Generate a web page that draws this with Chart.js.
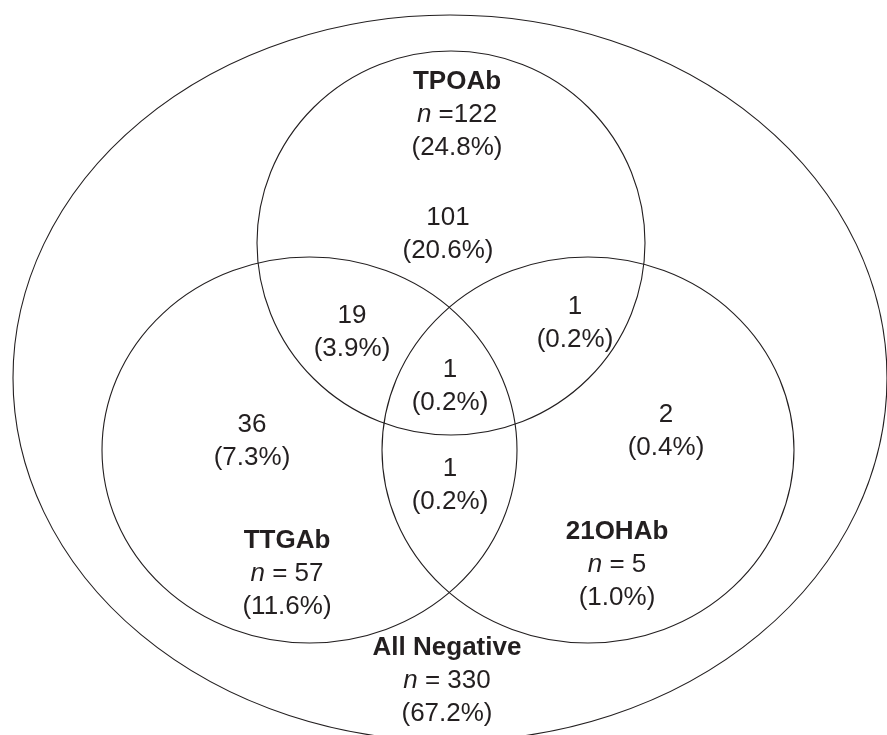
<!DOCTYPE html>
<html>
<head>
<meta charset="utf-8">
<script src="https://cdn.jsdelivr.net/npm/chart.js@4"></script>
<style>
  html, body { margin: 0; padding: 0; background: #fff; }
  #wrap { width: 887px; height: 735px; }
</style>
</head>
<body>
<div id="wrap"><canvas id="venn" width="887" height="735"></canvas></div>
<script>
// set totals
const setNames = ['TPOAb', 'TTGAb', '21OHAb', 'All Negative'];
const setCounts = [122, 57, 5, 330];
const setPercents = ['24.8', '11.6', '1.0', '67.2'];

// overlap regions
const regionNames = ['TPOAb only', 'TPOAb + TTGAb', 'TPOAb + 21OHAb', 'All three',
  'TTGAb + 21OHAb', 'TTGAb only', '21OHAb only'];
const regionCounts = [101, 19, 1, 1, 1, 36, 2];
const regionPercents = ['20.6', '3.9', '0.2', '0.2', '0.2', '7.3', '0.4'];

// geometry in canvas units (axis 0..887 x 0..735)
const rings = [
  { cx: 450, cy: 378, rx: 437, ry: 363 },   // everyone
  { cx: 451, cy: 243, rx: 194, ry: 192 },   // TPOAb
  { cx: 309.5, cy: 450, rx: 207.5, ry: 193 }, // TTGAb
  { cx: 588, cy: 450, rx: 206, ry: 193 }    // 21OHAb
];
const setPos = [
  { x: 457, y: 82, tight: true },
  { x: 287, y: 541 },
  { x: 617, y: 532 },
  { x: 447, y: 648 }
];
const regionPos = [
  { x: 448, y: 218 }, { x: 352, y: 316 }, { x: 575, y: 307 }, { x: 450, y: 370 },
  { x: 450, y: 469 }, { x: 252, y: 425 }, { x: 666, y: 415 }
];

const INK = '#231f20';
const FAMILY = '"Liberation Sans", Arial, Helvetica, sans-serif';
const SIZE = 26;
const LINE = 33;

function drawRuns(ctx, runs, cx, cy) {
  let total = 0;
  runs.forEach(r => { ctx.font = r.font; r.w = ctx.measureText(r.text).width; total += r.w; });
  let x = cx - total / 2;
  runs.forEach(r => { ctx.font = r.font; ctx.fillText(r.text, x, cy); x += r.w; });
}

const vennPlugin = {
  id: 'venn',
  afterDatasetsDraw(chart) {
    const { ctx, scales: { x, y } } = chart;
    ctx.save();
    ctx.strokeStyle = INK;
    ctx.lineWidth = 1.1;
    chart.getDatasetMeta(0).data.forEach((pt, i) => {
      const r = rings[i];
      const rx = Math.abs(x.getPixelForValue(r.cx + r.rx) - pt.x);
      const ry = Math.abs(y.getPixelForValue(r.cy + r.ry) - pt.y);
      ctx.beginPath();
      ctx.ellipse(pt.x, pt.y, rx, ry, 0, 0, Math.PI * 2);
      ctx.stroke();
    });

    ctx.fillStyle = INK;
    ctx.textAlign = 'left';
    ctx.textBaseline = 'middle';
    const plain = `${SIZE}px ${FAMILY}`;
    const bold = `bold ${SIZE}px ${FAMILY}`;
    const ital = `italic ${SIZE}px ${FAMILY}`;

    chart.getDatasetMeta(1).data.forEach((pt, i) => {
      const eq = setPos[i].tight ? ' =' + setCounts[i] : ' = ' + setCounts[i];
      drawRuns(ctx, [{ text: setNames[i], font: bold }], pt.x, pt.y);
      drawRuns(ctx, [{ text: 'n', font: ital }, { text: eq, font: plain }], pt.x, pt.y + LINE);
      drawRuns(ctx, [{ text: '(' + setPercents[i] + '%)', font: plain }], pt.x, pt.y + LINE * 2);
    });

    chart.getDatasetMeta(2).data.forEach((pt, i) => {
      drawRuns(ctx, [{ text: String(regionCounts[i]), font: plain }], pt.x, pt.y);
      drawRuns(ctx, [{ text: '(' + regionPercents[i] + '%)', font: plain }], pt.x, pt.y + LINE);
    });
    ctx.restore();
  }
};

new Chart(document.getElementById('venn').getContext('2d'), {
  type: 'scatter',
  data: {
    datasets: [
      { label: 'rings', data: rings.map(r => ({ x: r.cx, y: r.cy })), pointRadius: 0 },
      { label: 'sets', data: setPos.map((p, i) => ({ x: p.x, y: p.y, name: setNames[i] })), pointRadius: 0 },
      { label: 'regions', data: regionPos.map((p, i) => ({ x: p.x, y: p.y, name: regionNames[i] })), pointRadius: 0 }
    ]
  },
  options: {
    responsive: false,
    animation: false,
    devicePixelRatio: 1,
    layout: { padding: 0 },
    scales: {
      x: { type: 'linear', min: 0, max: 887, display: false },
      y: { type: 'linear', min: 0, max: 735, reverse: true, display: false }
    },
    plugins: { legend: { display: false }, tooltip: { enabled: false } }
  },
  plugins: [vennPlugin]
});
</script>
</body>
</html>
